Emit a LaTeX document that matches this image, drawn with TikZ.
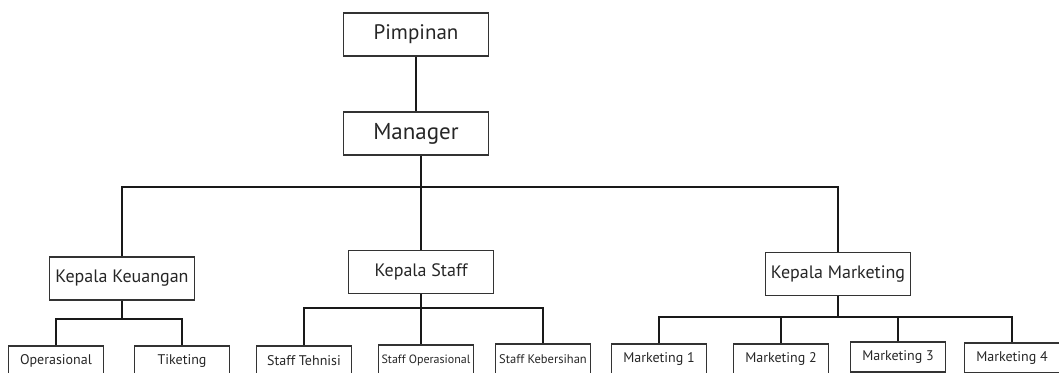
\documentclass[tikz,border=0pt]{standalone}
\usepackage{fontspec}
\setmainfont{PT Sans}
\usepackage{tikz}

\begin{document}
\begin{tikzpicture}[x=1pt, y=-1pt]
    \tikzstyle{box} = [draw=black!80, line width=1.4pt, rectangle, text centered, text=black!85, inner sep=0pt, minimum width=145pt, minimum height=43pt, font=\fontsize{18}{20}\selectfont];
    \tikzstyle{small} = [box, minimum width=95pt, minimum height=30pt, font=\fontsize{14}{16}\selectfont];
    \tikzstyle{line} = [draw=black!90, line width=2.5pt];
    \useasboundingbox (0,0) rectangle (1059,372);
    \clip (0,0) rectangle (1059,372);
    % top
    \node[box, font=\fontsize{21}{23}\selectfont] (pim) at (416,34.5) {Pimpinan};
    \node[box, font=\fontsize{23}{25}\selectfont] (mgr) at (416,133.5) {Manager};
    % heads
    \node[box] (kk) at (122,278.5) {Kepala Keuangan};
    \node[box] (ks) at (421,272) {Kepala Staff};
    \node[box] (km) at (838,274) {Kepala Marketing};
    % staff
    \node[small] (op) at (56,361) {Operasional};
    \node[small] (tik) at (182,361) {Tiketing};
    \node[small] (tek) at (304,361) {Staff Tehnisi};
    \node[small, font=\fontsize{12}{14}\selectfont] (sop) at (426,360) {Staff Operasional};
    \node[small, font=\fontsize{12.5}{14}\selectfont] (keb) at (543,359) {Staff Kebersihan};
    \node[small] (m1) at (659,359) {Marketing 1};
    \node[small] (m2) at (781,359) {Marketing 2};
    \node[small] (m3) at (898,357) {Marketing 3};
    \node[small] (m4) at (1012,358) {Marketing 4};
    \coordinate (bus) at (0,187);
    \coordinate (busk) at (0,319);
    \coordinate (buss) at (0,308);
    \coordinate (busm) at (0,317);
    \tikzstyle{every path}=[line]
    \path (pim) -- (mgr);
    \path (ks.north) -- (ks.north |- mgr.south);
    \path (kk.north) |- (bus -| mgr) -| (km.north);
    \path (op.north) |- (busk -| kk) -| (tik.north);
    \path (kk.south) -- (busk -| kk);
    \path (tek.north) |- (buss -| ks) -| (keb.north);
    \path (ks.south) -- (ks.south |- sop.north);
    \path (m1.north) |- (busm -| km) -| (m4.north);
    \path (km.south) -- (busm -| km);
    \path (m2.north) -- (m2.north |- busm);
    \path (m3.north) -- (m3.north |- busm);
\end{tikzpicture}
\end{document}
